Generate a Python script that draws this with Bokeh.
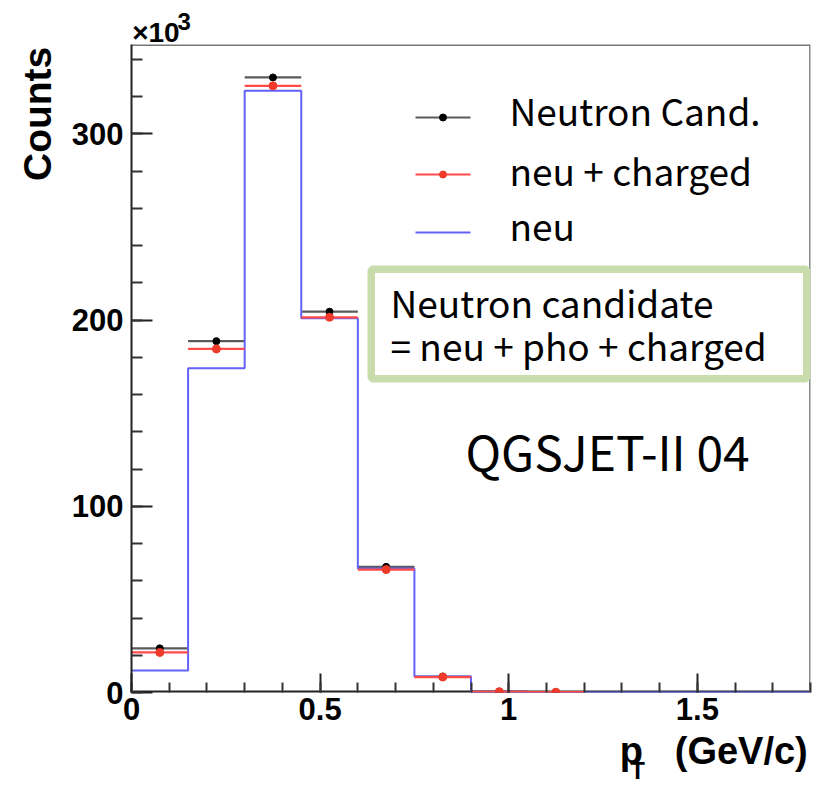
import math
from bokeh.plotting import figure
from bokeh.models import Range1d, FixedTicker, Label, LinearAxis
from bokeh.embed import file_html
from bokeh.resources import INLINE

# ---------------- data (counts in units of 10^3) ----------------
bin_edges = [0.0, 0.15, 0.30, 0.45, 0.60, 0.75, 0.90, 1.05, 1.20, 1.35, 1.50, 1.65, 1.80]
neutron_cand = [23.7, 188.7, 330.3, 204.5, 67.5, 8.6, 0.5, 0.2]
neu_charged = [21.5, 184.5, 325.8, 201.5, 66.0, 8.3, 0.4, 0.15]
neu = [11.8, 174.2, 323.1, 201.0, 66.6, 8.6, 0.4, 0.15, 0.0, 0.0, 0.0, 0.0]

x_ticks = [0.0, 0.5, 1.0, 1.5]
x_tick_labels = ["0", "0.5", "1", "1.5"]
x_minor = [round(0.1 * i, 2) for i in range(19)]
y_ticks = [0, 100, 200, 300]
y_tick_labels = ["0", "100", "200", "300"]
y_minor = list(range(0, 350, 20))

series_names = ["Neutron Cand.", "neu + charged", "neu"]
box_lines = ["Neutron candidate", "= neu + pho + charged"]
model_text = "QGSJET-II 04"
y_title = "Counts"
y_scale_base = "\u00d710"
y_scale_exp = "3"
x_title_p = "p"
x_title_unit = "(GeV/c)"
x_title_sub = "T"

NB = "\u00a0"  # non-breaking spaces used to slide centred axis titles to the ends

X_MAX = 1.8
Y_END = 348.0
FL, FR, FT, FB = 131, 810, 44, 692  # frame edges in px (layout)
SX = (FR - FL) / X_MAX
SY = (FB - FT) / Y_END


def dx(px):
    return (px - FL) / SX


def dy(py):
    return (FB - py) / SY


BLACK_LINE = "#5a5a5a"
RED_LINE = "#ff4a4a"
RED_DOT = "#f03a2a"
BLUE = "#6262f8"
GREEN = "#c9dcab"

p = figure(width=815, height=787,
           min_border_left=FL, min_border_right=815 - FR,
           min_border_top=FT, min_border_bottom=787 - FB,
           x_range=Range1d(0, X_MAX), y_range=Range1d(0, Y_END),
           output_backend="svg", toolbar_location=None)
try:
    p.title_location = None
except Exception:
    pass
p.outline_line_color = None
p.grid.visible = False
p.background_fill_color = "white"
p.border_fill_color = "white"

TICK_FONT = "Liberation Sans"
for ax in (p.xaxis, p.yaxis):
    ax.major_tick_out = 0
    ax.minor_tick_out = 0
    ax.major_tick_line_width = 2
    ax.minor_tick_line_width = 2
    ax.major_tick_line_color = "#222222"
    ax.minor_tick_line_color = "#333333"
    ax.major_label_text_font = TICK_FONT
    ax.major_label_text_font_style = "bold"
    ax.major_label_text_font_size = "31px"
    ax.major_label_text_color = "black"
    ax.axis_label_text_font = TICK_FONT
    ax.axis_label_text_font_style = "bold"
    ax.axis_label_text_color = "black"

p.xaxis.ticker = FixedTicker(ticks=x_ticks, minor_ticks=x_minor)
p.xaxis.major_label_overrides = {t: l for t, l in zip(x_ticks, x_tick_labels)}
p.xaxis.major_tick_in = 19
p.xaxis.minor_tick_in = 10
p.xaxis.axis_line_color = None
p.xaxis.major_label_standoff = 5
p.xaxis.axis_label = NB * 46 + x_title_p + NB * 3 + x_title_unit
p.xaxis.axis_label_text_font_size = "38px"
p.xaxis.axis_label_standoff = 7

p.yaxis.ticker = FixedTicker(ticks=y_ticks, minor_ticks=y_minor)
p.yaxis.major_label_overrides = {t: l for t, l in zip(y_ticks, y_tick_labels)}
p.yaxis.major_tick_in = 21
p.yaxis.minor_tick_in = 11
p.yaxis.axis_line_width = 2
p.yaxis.axis_line_color = "#222222"
p.yaxis.major_label_standoff = 8
p.yaxis.axis_label = NB * 47 + y_title
p.yaxis.axis_label_text_font_size = "39px"
p.yaxis.axis_label_standoff = 10


def label_axis(text, size, standoff):
    a = LinearAxis(ticker=FixedTicker(ticks=[], minor_ticks=[]),
                   axis_line_color=None, major_tick_line_color=None,
                   minor_tick_line_color=None, major_tick_in=0, major_tick_out=0,
                   minor_tick_in=0, minor_tick_out=0, major_label_text_font_size="1px",
                   axis_label=text, axis_label_standoff=standoff,
                   axis_label_text_font=TICK_FONT, axis_label_text_font_style="bold",
                   axis_label_text_font_size=size, axis_label_text_color="black")
    return a


# subscript T of p_T (below the main x title) and the x10^3 multiplier (above)
p.add_layout(label_axis(NB * 50 + x_title_sub, "24px", -18), "below")
p.add_layout(label_axis(y_scale_base + NB * 81, "28px", -3), "above")
p.add_layout(label_axis(y_scale_exp + NB * 86, "24px", -21), "above")

# frame lines (bottom, top, right)
p.segment(x0=[0, 0], y0=[0, Y_END], x1=[X_MAX, X_MAX], y1=[0, Y_END],
          line_color=["#222222", "#777777"], line_width=[4, 3])
p.segment(x0=[X_MAX], y0=[0], x1=[X_MAX], y1=[Y_END], line_color="#888888", line_width=3)

# bin centres
n = len(neutron_cand)
centers = [(bin_edges[i] + bin_edges[i + 1]) / 2 for i in range(n)]
lefts = bin_edges[:n]
rights = bin_edges[1:n + 1]

# black series: Neutron Cand.
p.segment(x0=lefts, y0=neutron_cand, x1=rights, y1=neutron_cand,
          line_color=BLACK_LINE, line_width=2.2)
p.scatter(centers, neutron_cand, size=7, color="black")

# blue step: neu
step_y = neu + [neu[-1]]
p.step(bin_edges, step_y, mode="after", line_color=BLUE, line_width=2)

# red series: neu + charged
p.segment(x0=lefts, y0=neu_charged, x1=rights, y1=neu_charged,
          line_color=RED_LINE, line_width=2.2)
p.scatter(centers, neu_charged, size=8, color=RED_DOT)

# ---------------- legend ----------------
lx0, lx1 = dx(415), dx(470)
lxc = (lx0 + lx1) / 2
leg_y = [dy(117), dy(174), dy(232)]
p.segment(x0=[lx0], y0=[leg_y[0]], x1=[lx1], y1=[leg_y[0]], line_color=BLACK_LINE, line_width=2.2)
p.scatter([lxc], [leg_y[0]], size=7, color="black")
p.segment(x0=[lx0], y0=[leg_y[1]], x1=[lx1], y1=[leg_y[1]], line_color=RED_LINE, line_width=2.2)
p.scatter([lxc], [leg_y[1]], size=7, color=RED_DOT)
p.segment(x0=[lx0], y0=[leg_y[2]], x1=[lx1], y1=[leg_y[2]], line_color=BLUE, line_width=2)

TEXT_FONT = "Noto Sans CJK KR"
for name, yb in zip(series_names, [125, 185, 240]):
    p.add_layout(Label(x=dx(509), y=dy(yb - 16), text=name, text_font=TEXT_FONT,
                       text_font_size="37px", text_color="black",
                       text_baseline="alphabetic", text_align="left"))

# ---------------- annotation box ----------------
p.quad(left=[dx(370.75)], right=[dx(806.25)], bottom=[dy(378.25)], top=[dy(268.75)],
       fill_color="white", line_color=GREEN, line_width=7.5)
for txt, yb in zip(box_lines, [317, 360]):
    p.add_layout(Label(x=dx(390), y=dy(yb - 16), text=txt, text_font=TEXT_FONT,
                       text_font_size="37px", text_color="black",
                       text_baseline="alphabetic", text_align="left"))

p.add_layout(Label(x=dx(465), y=dy(470 - 21), text=model_text, text_font=TEXT_FONT,
                   text_font_size="48px", text_color="black",
                   text_baseline="alphabetic", text_align="left"))

open("out.html", "w").write(file_html(p, INLINE))
